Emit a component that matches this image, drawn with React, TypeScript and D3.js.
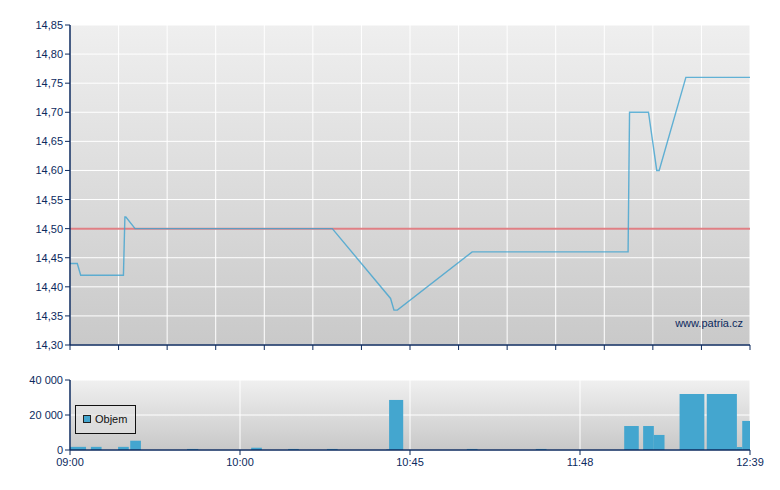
import React from "react";
import * as d3 from "d3";

// ---- data ----
const priceIdx = [0, 1.5, 2.2, 11.0, 11.3, 11.5, 13.4, 54.0, 66.0, 66.7, 67.4, 82.8, 114.9, 115.2, 119.1, 120.8, 121.3, 126.8, 140];
const priceVal = [14.44, 14.44, 14.42, 14.42, 14.52, 14.52, 14.50, 14.50, 14.38, 14.36, 14.36, 14.46, 14.46, 14.70, 14.70, 14.60, 14.60, 14.76, 14.76];
const prevClose = 14.5;

const volStart = [0, 4.3, 9.9, 12.4, 24.1, 37.3, 44.9, 52.9, 65.1, 65.7, 81.7, 95.9, 114.1, 118.0, 120.2, 125.5, 131.1, 137.3, 138.4];
const volEnd = [3.3, 6.5, 12.1, 14.6, 26.4, 39.5, 47.1, 55.1, 65.7, 68.6, 83.9, 98.1, 117.1, 120.2, 122.4, 130.6, 137.3, 138.4, 140];
const volVal = [1800, 1800, 1800, 5300, 600, 1300, 600, 600, 300, 28600, 600, 600, 13700, 13700, 8600, 32000, 32000, 1700, 16600];

const timeLabels = ["09:00", "10:00", "10:45", "11:48", "12:39"];
const timeLabelIdx = [0, 35, 70, 105, 140];
const priceTicks = [14.3, 14.35, 14.4, 14.45, 14.5, 14.55, 14.6, 14.65, 14.7, 14.75, 14.8, 14.85];
const volTicks = [0, 20000, 40000];
const gridIdx = d3.range(0, 141, 10);

const AXIS = "#0c2a5e";
const FONT = "'Liberation Sans', Arial, sans-serif";

export default function App() {
  const L = 70, R = 750;
  const x = d3.scaleLinear().domain([0, 140]).range([L, R]);
  const yP = d3.scaleLinear().domain([14.3, 14.85]).range([345, 25]);
  const yV = d3.scaleLinear().domain([0, 40000]).range([450, 380]);

  const pts = priceIdx.map((d, i) => [d, priceVal[i]] as [number, number]);
  const line = d3.line<[number, number]>().x(d => x(d[0])).y(d => yP(d[1]));
  const fmtP = (v: number) => d3.format(".2f")(v).replace(".", ",");
  const fmtV = (v: number) => d3.format(",")(v).replace(/,/g, " ");

  return (
    <svg width={780} height={490} style={{ position: "absolute", left: 0, top: 0 }} fontFamily={FONT}>
      <defs>
        <linearGradient id="gMain" x1="0" y1="0" x2="0" y2="1">
          <stop offset="0" stopColor="#efefef" />
          <stop offset="1" stopColor="#c9c9c9" />
        </linearGradient>
        <linearGradient id="gVol" x1="0" y1="0" x2="0" y2="1">
          <stop offset="0" stopColor="#f0f0f0" />
          <stop offset="1" stopColor="#c8c8c8" />
        </linearGradient>
      </defs>
      <rect width={780} height={490} fill="#ffffff" />

      {/* main panel */}
      <rect x={L} y={yP(14.85)} width={R - L} height={yP(14.3) - yP(14.85)} fill="url(#gMain)" />
      {priceTicks.map(t => (
        <line key={"hg" + t} x1={L} x2={R} y1={yP(t)} y2={yP(t)} stroke="#ffffff" strokeWidth={1} />
      ))}
      {gridIdx.map(g => (
        <line key={"vg" + g} x1={x(g)} x2={x(g)} y1={yP(14.85)} y2={yP(14.3)} stroke="#ffffff" strokeWidth={1} />
      ))}
      <line x1={L} x2={R} y1={yP(prevClose)} y2={yP(prevClose)} stroke="#e07f84" strokeWidth={2} />
      <path d={line(pts) || ""} fill="none" stroke="#3ea3cf" strokeOpacity={0.8} strokeWidth={1.4} />
      <text x={743} y={327} textAnchor="end" fontSize={11} fill={AXIS}>www.patria.cz</text>

      {/* main axes */}
      <line x1={L} x2={L} y1={yP(14.85)} y2={yP(14.3)} stroke={AXIS} strokeWidth={1.5} />
      <line x1={L} x2={R} y1={yP(14.3)} y2={yP(14.3)} stroke={AXIS} strokeWidth={1.5} />
      {priceTicks.map(t => (
        <g key={"pt" + t}>
          <line x1={L - 5} x2={L} y1={yP(t)} y2={yP(t)} stroke={AXIS} strokeWidth={1} />
          <text x={L - 7} y={yP(t) + 4} textAnchor="end" fontSize={11} fill={AXIS}>{fmtP(t)}</text>
        </g>
      ))}
      {gridIdx.map(g => (
        <line key={"xt" + g} x1={x(g)} x2={x(g)} y1={yP(14.3)} y2={yP(14.3) + 5} stroke={AXIS} strokeWidth={1} />
      ))}

      {/* volume panel */}
      <rect x={L} y={yV(40000)} width={R - L} height={yV(0) - yV(40000)} fill="url(#gVol)" />
      {volTicks.map(t => (
        <line key={"vh" + t} x1={L} x2={R} y1={yV(t)} y2={yV(t)} stroke="#ffffff" strokeWidth={1} />
      ))}
      {timeLabelIdx.map(g => (
        <line key={"vv" + g} x1={x(g)} x2={x(g)} y1={yV(40000)} y2={yV(0)} stroke="#ffffff" strokeWidth={1} />
      ))}
      {volVal.map((v, i) => (
        <rect key={"vb" + i} x={x(volStart[i])} y={yV(v)} width={x(volEnd[i]) - x(volStart[i])} height={yV(0) - yV(v)} fill="#44a6cf" />
      ))}

      {/* legend */}
      <rect x={75.5} y={405.5} width={60} height={28} fill="#e2e2e2" fillOpacity={0.6} stroke="#111111" strokeWidth={1} />
      <rect x={83.5} y={415.5} width={7} height={7} fill="#44a6cf" stroke="#222222" strokeWidth={1} />
      <text x={95} y={423} fontSize={11} fill="#111111">Objem</text>

      {/* volume axes */}
      <line x1={L} x2={L} y1={yV(40000)} y2={yV(0)} stroke={AXIS} strokeWidth={1.5} />
      <line x1={L} x2={R} y1={yV(0)} y2={yV(0)} stroke={AXIS} strokeWidth={1.5} />
      {volTicks.map(t => (
        <g key={"vt" + t}>
          <line x1={L - 5} x2={L} y1={yV(t)} y2={yV(t)} stroke={AXIS} strokeWidth={1} />
          <text x={L - 7} y={yV(t) + 4} textAnchor="end" fontSize={11} fill={AXIS}>{fmtV(t)}</text>
        </g>
      ))}
      {timeLabelIdx.map((g, i) => (
        <g key={"tl" + g}>
          <line x1={x(g)} x2={x(g)} y1={yV(0)} y2={yV(0) + 5} stroke={AXIS} strokeWidth={1} />
          <text x={x(g)} y={466} textAnchor="middle" fontSize={11} fill={AXIS}>{timeLabels[i]}</text>
        </g>
      ))}
    </svg>
  );
}
